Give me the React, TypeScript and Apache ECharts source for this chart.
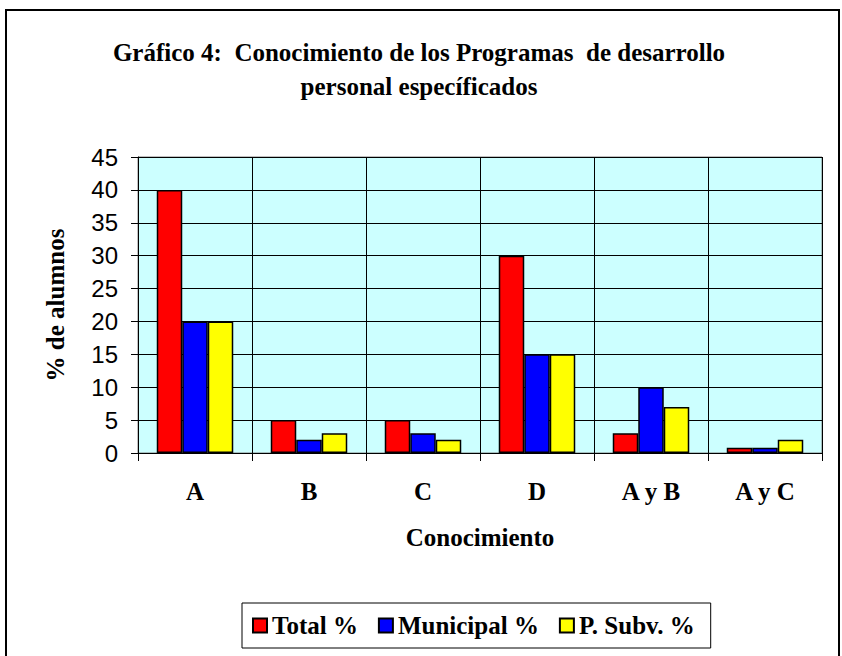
import React, { useEffect, useRef } from "react";
import * as echarts from "echarts";

const categories = ["A", "B", "C", "D", "A y B", "A y C"];
const totalPct = [40, 5, 5, 30, 3, 0.8];
const municipalPct = [20, 2, 3, 15, 10, 0.8];
const subvPct = [20, 3, 2, 15, 7, 2];
const seriesNames = ["Total %", "Municipal %", "P. Subv. %"];
const seriesColors = ["#FF0000", "#0000FF", "#FFFF00"];
const titleText = "Gráfico 4:  Conocimiento de los Programas  de desarrollo\npersonal específicados";

const SERIF = "'Liberation Serif', 'Times New Roman', serif";
const SANS = "'Liberation Sans', Arial, sans-serif";

export default function App() {
  const ref = useRef<HTMLDivElement>(null);
  useEffect(() => {
    if (!ref.current) return;
    const chart = echarts.init(ref.current, null, { renderer: "svg" });
    const values = [totalPct, municipalPct, subvPct];
    chart.setOption({
      animation: false,
      backgroundColor: "#FFFFFF",
      title: {
        text: titleText,
        left: 414,
        top: 30,
        textAlign: "center",
        textStyle: {
          fontFamily: SERIF,
          fontWeight: "bold",
          fontSize: 25,
          lineHeight: 34,
          color: "#000",
        },
      },
      graphic: [
        {
          type: "rect",
          shape: { x: 6, y: 10, width: 833, height: 700 },
          style: { fill: "none", stroke: "#000", lineWidth: 2 },
          silent: true,
          z: 100,
        },
      ],
      legend: {
        data: seriesNames,
        left: 242,
        top: 603,
        orient: "horizontal",
        padding: [10, 16, 10, 10],
        borderColor: "#000",
        borderWidth: 1,
        itemWidth: 14,
        itemHeight: 14,
        itemGap: 20,
        icon: "rect",
        textStyle: {
          fontFamily: SERIF,
          fontWeight: "bold",
          fontSize: 25,
          color: "#000",
        },
      },
      grid: {
        left: 138,
        top: 157,
        right: 20,
        bottom: 203,
        show: true,
        backgroundColor: "#CCFFFF",
        borderColor: "#808080",
        borderWidth: 1,
      },
      xAxis: {
        type: "category",
        data: categories,
        name: "Conocimiento",
        nameLocation: "middle",
        nameGap: 72,
        nameTextStyle: {
          fontFamily: SERIF,
          fontWeight: "bold",
          fontSize: 25,
          color: "#000",
        },
        axisLine: { lineStyle: { color: "#000", width: 1 } },
        axisTick: { show: true, length: 8, lineStyle: { color: "#000" } },
        axisLabel: {
          margin: 26,
          fontFamily: SERIF,
          fontWeight: "bold",
          fontSize: 25,
          color: "#000",
        },
        splitLine: { show: true, lineStyle: { color: "#000", width: 1 } },
      },
      yAxis: {
        type: "value",
        min: 0,
        max: 45,
        interval: 5,
        name: "% de alumnos",
        nameLocation: "middle",
        nameGap: 70,
        nameTextStyle: {
          fontFamily: SERIF,
          fontWeight: "bold",
          fontSize: 25,
          color: "#000",
        },
        axisLine: { show: true, lineStyle: { color: "#000", width: 1 } },
        axisTick: { show: true, length: 7, lineStyle: { color: "#000" } },
        axisLabel: {
          margin: 20,
          fontFamily: SANS,
          fontSize: 24,
          color: "#000",
        },
        splitLine: { show: true, lineStyle: { color: "#000", width: 1 } },
      },
      series: seriesNames.map((name, i) => ({
        name,
        type: "bar",
        data: values[i],
        barWidth: 25.5,
        barGap: "0%",
        itemStyle: {
          color: seriesColors[i],
          borderColor: "#000",
          borderWidth: 1.5,
        },
      })),
    });
    return () => chart.dispose();
  }, []);
  return (
    <div
      ref={ref}
      style={{ position: "fixed", left: 0, top: 0, width: 842, height: 656 }}
    />
  );
}
